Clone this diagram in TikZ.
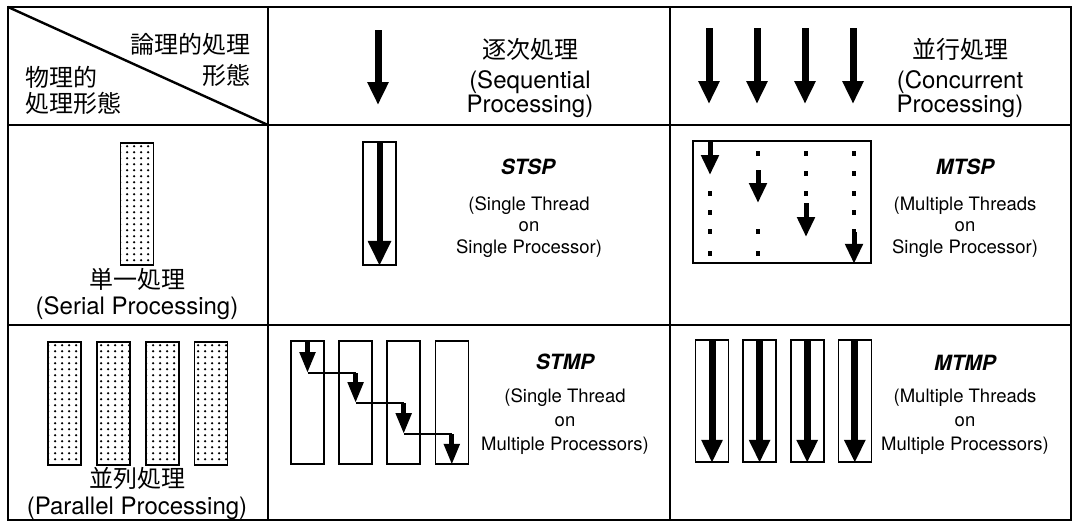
\documentclass[tikz,border=0pt]{standalone}
\usepackage{fontspec}
\setmainfont{TeX Gyre Heros}
\newfontfamily\jfont{Noto Sans CJK JP}
\usetikzlibrary{arrows.meta,positioning,patterns.meta}

\tikzdeclarepattern{
  name=cpudots,
  type=uncolored,
  bottom left={(0pt,0pt)},
  top right={(6.5pt,6.2pt)},
  tile size={(6.5pt,6.2pt)},
  code={\pgfpathcircle{\pgfqpoint{3.25pt}{3.1pt}}{1.35pt}\pgfusepath{fill}}
}

\begin{document}
\begin{tikzpicture}[x=1pt,y=-1pt,
    frame/.style={line width=2.8pt},
    cpu/.style={draw,line width=1.8pt,minimum width=33pt,minimum height=122pt,
      inner sep=0pt,pattern=cpudots},
    core/.style={draw,line width=1.6pt,minimum width=33pt,minimum height=123pt,inner sep=0pt},
    thread/.style={-{Triangle[width=20pt,length=23pt]},line width=7pt},
    hop/.style={-{Triangle[width=15pt,length=21pt]},line width=5pt},
    slice/.style={-{Triangle[width=17pt,length=20pt]},line width=5pt},
    wire/.style={line width=1.5pt},
    head/.style={font=\fontsize{24}{24}\selectfont,align=center,inner sep=0pt},
    mode/.style={font=\fontsize{21}{22}\selectfont\bfseries\itshape,inner sep=0pt},
    note/.style={font=\fontsize{18.5}{21.5}\selectfont,align=center,inner sep=0pt}]

  \fill[white] (0,0) rectangle (1075,523);
  \useasboundingbox (0,0) rectangle (1075,523);

  % table
  \draw[frame] (8,7) rectangle (1071,520);
  \draw[frame] (268,7) -- (268,520) (670,7) -- (670,520);
  \draw[frame] (8,125) -- (1071,125) (8,325) -- (1071,325);
  \draw[line width=2.4pt] (8,7) -- (268,125);

  % header row
  \node[head,font=\jfont\fontsize{24}{31}\selectfont,align=right,anchor=east] (logic) at (251,60) {論理的処理\\形態};
  \node[head,font=\jfont\fontsize{24}{26}\selectfont,align=left,anchor=west] (phys) at (25,90) {物理的\\処理形態};

  \draw[thread] (378,30) -- (378,105);
  \node[head] (seq) at (530,78) {{\jfont 逐次処理}\\[6.5pt](Sequential\\Processing)};

  \foreach \x in {709,757,805,853}
    \draw[thread] (\x,28) -- (\x,104);
  \node[head] (conc) at (960,78) {{\jfont 並行処理}\\[6.5pt](Concurrent\\Processing)};

  % serial processing row
  \node[cpu] (sp) at (137,204) {};
  \node[head,font=\fontsize{24}{26}\selectfont] (serial) at (137,294) {{\jfont 単一処理}\\(Serial Processing)};

  \node[core] (st) at (379.5,203.5) {};
  \draw[thread,-{Triangle[width=22pt,length=25pt]},line width=6pt] (st.north) -- (st.south);
  \node[mode] (stsp) at (528,167) {STSP};
  \node[note] (stspnote) at (529,227) {(Single Thread\\on\\Single Processor)};

  \node[core,minimum width=178pt,minimum height=122pt] (mt) at (782,202) {};
  \foreach \c/\x in {0/710,1/758,2/806,3/854}
    \foreach \r/\y in {0/153,1/173,2/193,3/212,4/231,5/253} {
      \pgfmathtruncatemacro\k{\r/2}
      \ifnum\k=\c\else
        \fill (\x-2,\y-2.5) rectangle (\x+2,\y+2.5);
      \fi
    }
  \draw[slice] (mt.north west -| 710,0) -- (710,175);
  \draw[slice] (758,170) -- (758,203);
  \draw[slice] (806,203) -- (806,237);
  \draw[slice] (854,232) -- (mt.south east -| 854,0);
  \node[mode] (mtsp) at (965,167) {MTSP};
  \node[note] (mtspnote) at (965,227) {(Multiple Threads\\on\\Single Processor)};

  % parallel processing row
  \node[cpu,minimum height=123pt] (pp1) at (64.5,403.5) {};
  \node[cpu,minimum height=123pt,right=14pt of pp1] (pp2) {};
  \node[cpu,minimum height=123pt,right=14pt of pp2] (pp3) {};
  \node[cpu,minimum height=123pt,right=14pt of pp3] (pp4) {};
  \node[head,font=\fontsize{24}{27}\selectfont] (parallel) at (137,494) {{\jfont 並列処理}\\(Parallel Processing)};

  \node[core] (sm1) at (307.5,402.5) {};
  \node[core,right=13.5pt of sm1] (sm2) {};
  \node[core,right=13.5pt of sm2] (sm3) {};
  \node[core,right=13.5pt of sm3] (sm4) {};
  \coordinate (j1) at (sm1 |- 0,373);
  \coordinate (j2) at (sm2 |- 0,373);
  \coordinate (j3) at (sm2 |- 0,403);
  \coordinate (j4) at (sm3 |- 0,403);
  \coordinate (j5) at (sm3 |- 0,434);
  \coordinate (j6) at (sm4 |- 0,434);
  \draw[wire] (j1) -- (j2) (j3) -- (j4) (j5) -- (j6);
  \draw[hop] (sm1.north) -- (j1);
  \draw[hop] (j2) -- (j3);
  \draw[hop] (j4) -- (j5);
  \draw[hop] (j6) -- (sm4.south);
  \node[mode] (stmp) at (565,362) {STMP};
  \node[note,font=\fontsize{18.5}{24}\selectfont] (stmpnote) at (565,422) {(Single Thread\\on\\Multiple Processors)};

  \node[core,minimum height=122pt] (mm1) at (712,401) {};
  \node[core,minimum height=122pt,right=13pt of mm1] (mm2) {};
  \node[core,minimum height=122pt,right=13pt of mm2] (mm3) {};
  \node[core,minimum height=122pt,right=13pt of mm3] (mm4) {};
  \foreach \n in {mm1,mm2,mm3,mm4}
    \draw[thread] (\n.north) -- (\n.south);
  \node[mode] (mtmp) at (965,363) {MTMP};
  \node[note,font=\fontsize{18.5}{24}\selectfont] (mtmpnote) at (965,422) {(Multiple Threads\\on\\Multiple Processors)};
\end{tikzpicture}
\end{document}
